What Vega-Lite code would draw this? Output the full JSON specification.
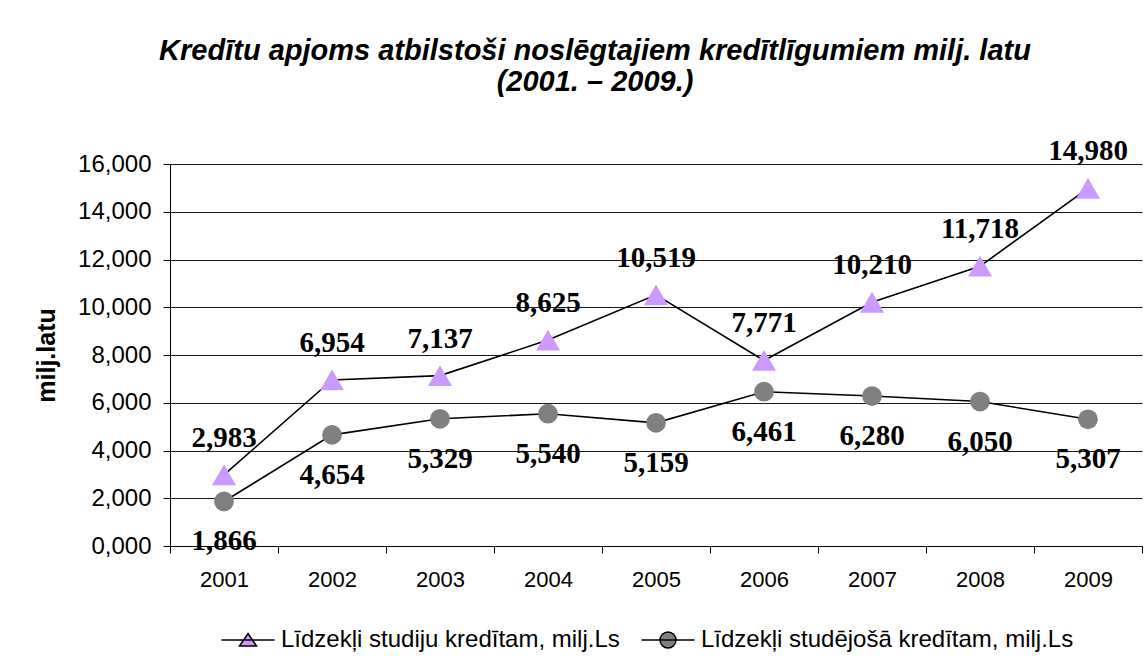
{
  "$schema": "https://vega.github.io/schema/vega-lite/v6.json",
  "width": 972,
  "height": 382,
  "autosize": {"type": "none"},
  "padding": {"left": 170, "top": 164, "right": 5, "bottom": 118},
  "background": "white",
  "title": {
    "text": ["Kredītu apjoms atbilstoši noslēgtajiem kredītlīgumiem milj. latu", "(2001. – 2009.)"],
    "font": "Liberation Sans",
    "fontSize": 29,
    "fontWeight": "bold",
    "fontStyle": "italic",
    "color": "black",
    "anchor": "middle",
    "dx": -61,
    "lineHeight": 31,
    "offset": 40
  },
  "config": {
    "locale": {"number": {"decimal": ",", "thousands": ".", "grouping": [3], "currency": ["", ""]}},
    "view": {"stroke": null},
    "axis": {"labelFont": "Liberation Sans", "labelColor": "black", "titleColor": "black"},
    "legend": {
      "labelFont": "Liberation Sans",
      "labelFontSize": 24,
      "labelColor": "black",
      "labelLimit": 800
    }
  },
  "data": {
    "values": [
      {"year": "2001", "series": "Līdzekļi studiju kredītam, milj.Ls", "value": 2.983},
      {"year": "2002", "series": "Līdzekļi studiju kredītam, milj.Ls", "value": 6.954},
      {"year": "2003", "series": "Līdzekļi studiju kredītam, milj.Ls", "value": 7.137},
      {"year": "2004", "series": "Līdzekļi studiju kredītam, milj.Ls", "value": 8.625},
      {"year": "2005", "series": "Līdzekļi studiju kredītam, milj.Ls", "value": 10.519},
      {"year": "2006", "series": "Līdzekļi studiju kredītam, milj.Ls", "value": 7.771},
      {"year": "2007", "series": "Līdzekļi studiju kredītam, milj.Ls", "value": 10.210},
      {"year": "2008", "series": "Līdzekļi studiju kredītam, milj.Ls", "value": 11.718},
      {"year": "2009", "series": "Līdzekļi studiju kredītam, milj.Ls", "value": 14.980},
      {"year": "2001", "series": "Līdzekļi studējošā kredītam, milj.Ls", "value": 1.866},
      {"year": "2002", "series": "Līdzekļi studējošā kredītam, milj.Ls", "value": 4.654},
      {"year": "2003", "series": "Līdzekļi studējošā kredītam, milj.Ls", "value": 5.329},
      {"year": "2004", "series": "Līdzekļi studējošā kredītam, milj.Ls", "value": 5.540},
      {"year": "2005", "series": "Līdzekļi studējošā kredītam, milj.Ls", "value": 5.159},
      {"year": "2006", "series": "Līdzekļi studējošā kredītam, milj.Ls", "value": 6.461},
      {"year": "2007", "series": "Līdzekļi studējošā kredītam, milj.Ls", "value": 6.280},
      {"year": "2008", "series": "Līdzekļi studējošā kredītam, milj.Ls", "value": 6.050},
      {"year": "2009", "series": "Līdzekļi studējošā kredītam, milj.Ls", "value": 5.307}
    ]
  },
  "encoding": {
    "x": {
      "field": "year",
      "type": "ordinal",
      "scale": {"type": "band", "paddingInner": 0, "paddingOuter": 0},
      "axis": {
        "title": null,
        "labelAngle": 0,
        "tickBand": "extent",
        "domainColor": "black",
        "tickColor": "black",
        "tickSize": 7,
        "labelFontSize": 22,
        "labelPadding": 16,
        "grid": false
      }
    },
    "y": {
      "field": "value",
      "type": "quantitative",
      "scale": {"domain": [0, 16], "nice": false},
      "axis": {
        "title": "milj.latu",
        "titleFont": "Liberation Sans",
        "titleFontSize": 25,
        "titleFontWeight": "bold",
        "titlePadding": 18,
        "values": [0, 2, 4, 6, 8, 10, 12, 14, 16],
        "format": ".3f",
        "labelFontSize": 24,
        "labelPadding": 12,
        "tickSize": 7,
        "tickColor": "black",
        "domainColor": "black",
        "grid": true,
        "gridColor": "#1a1a1a",
        "gridWidth": 1
      }
    }
  },
  "layer": [
    {
      "mark": {"type": "line", "color": "black", "strokeWidth": 1.6},
      "encoding": {"detail": {"field": "series"}}
    },
    {
      "transform": [{"filter": "datum.series === 'Līdzekļi studiju kredītam, milj.Ls'"}],
      "mark": {"type": "point", "shape": "triangle-up", "filled": true, "color": "#CC99FF", "opacity": 1, "size": 576}
    },
    {
      "transform": [{"filter": "datum.series === 'Līdzekļi studējošā kredītam, milj.Ls'"}],
      "mark": {"type": "point", "shape": "circle", "filled": true, "color": "#808080", "opacity": 1, "size": 390}
    },
    {
      "transform": [{"filter": "datum.series === 'Līdzekļi studiju kredītam, milj.Ls'"}],
      "mark": {"type": "text", "font": "Liberation Serif", "fontWeight": "bold", "fontSize": 29, "color": "black", "baseline": "alphabetic", "dy": -28},
      "encoding": {"text": {"field": "value", "type": "quantitative", "format": ".3f"}}
    },
    {
      "transform": [{"filter": "datum.series === 'Līdzekļi studējošā kredītam, milj.Ls'"}],
      "mark": {"type": "text", "font": "Liberation Serif", "fontWeight": "bold", "fontSize": 29, "color": "black", "baseline": "alphabetic", "dy": 49},
      "encoding": {"text": {"field": "value", "type": "quantitative", "format": ".3f"}}
    },
    {
      "transform": [{"filter": "datum.value < 0"}],
      "mark": {"type": "point", "filled": true, "opacity": 1, "strokeWidth": 1.5},
      "encoding": {
        "shape": {
          "field": "series",
          "type": "nominal",
          "scale": {
            "domain": ["Līdzekļi studiju kredītam, milj.Ls", "Līdzekļi studējošā kredītam, milj.Ls"],
            "range": ["M-2.65,0H2.65M0,-0.65L0.85,0.6L-0.85,0.6Z", "M-2.65,0H2.65M0.8,0A0.8,0.8,0,1,1,-0.8,0A0.8,0.8,0,1,1,0.8,0Z"]
          },
          "legend": {
            "orient": "none",
            "legendX": 66,
            "legendY": 464,
            "direction": "horizontal",
            "title": null,
            "symbolSize": 400,
            "labelOffset": 21,
            "columnPadding": 18
          }
        },
        "fill": {
          "field": "series",
          "type": "nominal",
          "scale": {
            "domain": ["Līdzekļi studiju kredītam, milj.Ls", "Līdzekļi studējošā kredītam, milj.Ls"],
            "range": ["#CC99FF", "#808080"]
          },
          "legend": {
            "orient": "none",
            "legendX": 66,
            "legendY": 464,
            "direction": "horizontal",
            "title": null,
            "symbolSize": 400,
            "labelOffset": 21,
            "columnPadding": 18
          }
        },
        "stroke": {
          "field": "series",
          "type": "nominal",
          "scale": {
            "domain": ["Līdzekļi studiju kredītam, milj.Ls", "Līdzekļi studējošā kredītam, milj.Ls"],
            "range": ["black", "black"]
          },
          "legend": {
            "orient": "none",
            "legendX": 66,
            "legendY": 464,
            "direction": "horizontal",
            "title": null,
            "symbolSize": 400,
            "labelOffset": 21,
            "columnPadding": 18
          }
        }
      }
    }
  ]
}
